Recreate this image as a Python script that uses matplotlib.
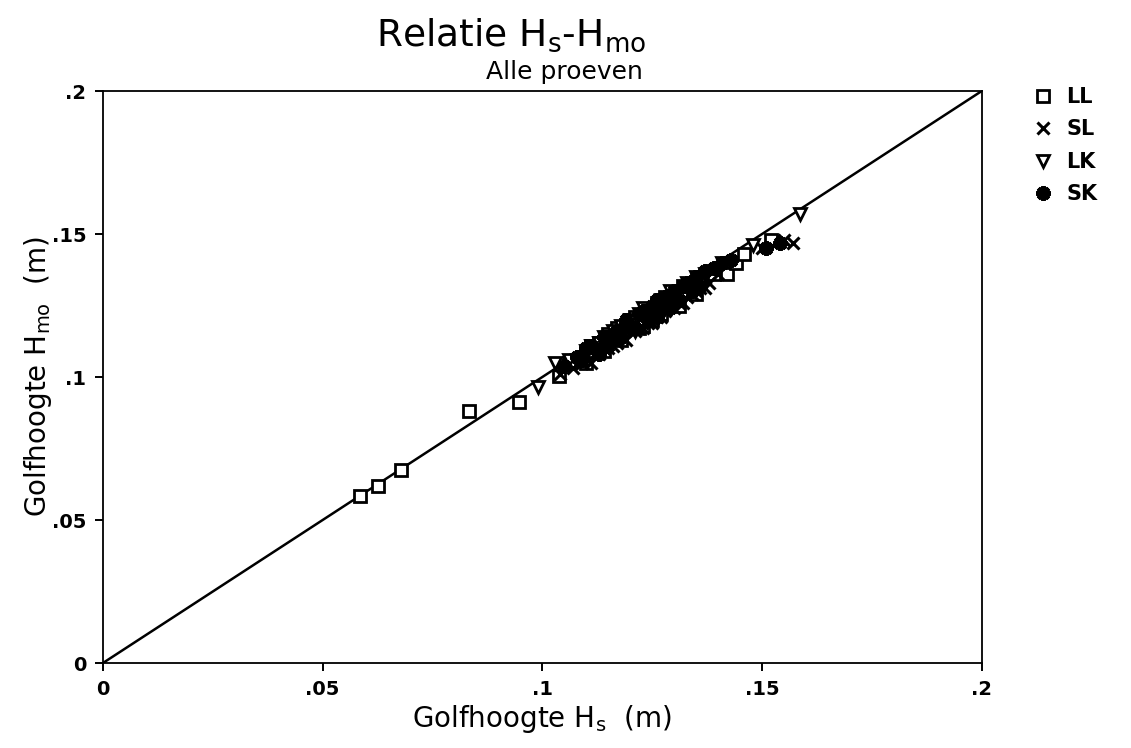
import matplotlib
matplotlib.use("Agg")
import matplotlib.pyplot as plt

# LL - squares
ll_hs = [0.0585, 0.0626, 0.0678, 0.0833, 0.0947, 0.1038, 0.106, 0.109, 0.110, 0.111,
         0.113, 0.114, 0.115, 0.116, 0.117, 0.118, 0.119, 0.120, 0.121, 0.122,
         0.123, 0.124, 0.125, 0.126, 0.127, 0.128, 0.130, 0.131, 0.132, 0.134,
         0.135, 0.136, 0.139, 0.142, 0.144, 0.146, 0.152]
ll_hmo = [0.0583, 0.0620, 0.0676, 0.0880, 0.0912, 0.1005, 0.105, 0.107, 0.105, 0.111,
          0.112, 0.109, 0.115, 0.114, 0.117, 0.113, 0.117, 0.120, 0.121, 0.117,
          0.118, 0.123, 0.120, 0.126, 0.122, 0.128, 0.129, 0.125, 0.132, 0.133,
          0.129, 0.135, 0.136, 0.136, 0.140, 0.143, 0.148]

# SL - crosses
sl_hs = [0.104, 0.107, 0.109, 0.110, 0.111, 0.112, 0.113, 0.114, 0.115, 0.116,
         0.117, 0.118, 0.119, 0.120, 0.121, 0.122, 0.123, 0.124, 0.125, 0.126,
         0.126, 0.127, 0.128, 0.129, 0.130, 0.131, 0.132, 0.133, 0.134, 0.135,
         0.136, 0.137, 0.138, 0.140, 0.150, 0.155, 0.157]
sl_hmo = [0.101, 0.103, 0.105, 0.107, 0.105, 0.108, 0.108, 0.110, 0.110, 0.111,
          0.112, 0.115, 0.113, 0.116, 0.116, 0.117, 0.117, 0.119, 0.119, 0.121,
          0.124, 0.121, 0.123, 0.125, 0.124, 0.126, 0.126, 0.128, 0.129, 0.130,
          0.131, 0.131, 0.133, 0.136, 0.145, 0.148, 0.147]

# LK - triangles
lk_hs = [0.0990, 0.1028, 0.106, 0.108, 0.110, 0.111, 0.113, 0.114, 0.115, 0.116,
         0.118, 0.119, 0.120, 0.121, 0.122, 0.123, 0.124, 0.125, 0.127, 0.128,
         0.129, 0.131, 0.132, 0.133, 0.135, 0.137, 0.141, 0.148, 0.1586]
lk_hmo = [0.0966, 0.1050, 0.106, 0.106, 0.109, 0.111, 0.112, 0.114, 0.111, 0.116,
          0.118, 0.115, 0.120, 0.116, 0.122, 0.124, 0.122, 0.120, 0.127, 0.124,
          0.130, 0.130, 0.128, 0.133, 0.135, 0.136, 0.140, 0.146, 0.1570]

# SK - stars
sk_hs = [0.105, 0.108, 0.109, 0.110, 0.111, 0.112, 0.113, 0.114, 0.115, 0.116,
         0.117, 0.118, 0.119, 0.119, 0.120, 0.121, 0.122, 0.123, 0.124, 0.125,
         0.126, 0.126, 0.127, 0.128, 0.129, 0.130, 0.131, 0.132, 0.133, 0.134,
         0.135, 0.136, 0.137, 0.139, 0.141, 0.143, 0.151, 0.154]
sk_hmo = [0.104, 0.107, 0.106, 0.110, 0.111, 0.110, 0.108, 0.114, 0.111, 0.115,
          0.116, 0.114, 0.119, 0.120, 0.117, 0.117, 0.122, 0.123, 0.120, 0.125,
          0.121, 0.127, 0.125, 0.128, 0.124, 0.130, 0.127, 0.132, 0.133, 0.130,
          0.135, 0.132, 0.137, 0.138, 0.140, 0.141, 0.145, 0.147]

ticks = [0, 0.05, 0.1, 0.15, 0.2]
tick_labels = ["0", ".05", ".1", ".15", ".2"]

plt.rcParams["font.family"] = ["DejaVu Sans"]

fig = plt.figure(figsize=(11.31, 7.48), dpi=100)
ax = fig.add_axes([0.091, 0.1136, 0.777, 0.7647])

ax.plot([0, 0.2], [0, 0.2], color="black", lw=1.8, zorder=1)

ax.plot(ll_hs, ll_hmo, ls="none", marker="s", ms=9, mfc="white", mec="black",
        mew=2.0, label="LL", zorder=3)
ax.plot(sl_hs, sl_hmo, ls="none", marker="x", ms=8, mec="black",
        mew=2.2, label="SL", zorder=3)
ax.plot(lk_hs, lk_hmo, ls="none", marker="v", ms=9, mfc="white", mec="black",
        mew=2.0, label="LK", zorder=3)
ax.plot(sk_hs, sk_hmo, ls="none", marker=(8, 2, 0), ms=10.5, mec="black",
        mew=3.0, label="SK", zorder=3)

ax.set_xlim(0, 0.2)
ax.set_ylim(0, 0.2)
ax.set_xticks(ticks)
ax.set_xticklabels(tick_labels)
ax.set_yticks(ticks)
ax.set_yticklabels(tick_labels)
ax.tick_params(direction="out", length=6, width=1.4, labelsize=14, pad=6)
for lab in ax.get_xticklabels() + ax.get_yticklabels():
    lab.set_fontweight("bold")
for s in ax.spines.values():
    s.set_linewidth(1.3)

ax.set_xlabel(r"Golfhoogte H$_\mathregular{s}$  (m)", fontsize=20, labelpad=3)
ax.set_ylabel(r"Golfhoogte H$_\mathregular{mo}$  (m)", fontsize=20, labelpad=-2)

fig.text(0.452, 0.953, r"Relatie H$_\mathregular{s}$-H$_\mathregular{mo}$",
         fontsize=27, ha="center", va="center")
fig.text(0.499, 0.904, "Alle proeven", fontsize=18, ha="center", va="center")

fig.legend(loc="upper left", bbox_to_anchor=(0.896, 0.909), frameon=False,
           prop={"size": 15, "weight": "bold"}, labelspacing=0.6,
           handletextpad=0.65, handlelength=1.0)

fig.savefig("out.png", dpi=100, facecolor="white")
